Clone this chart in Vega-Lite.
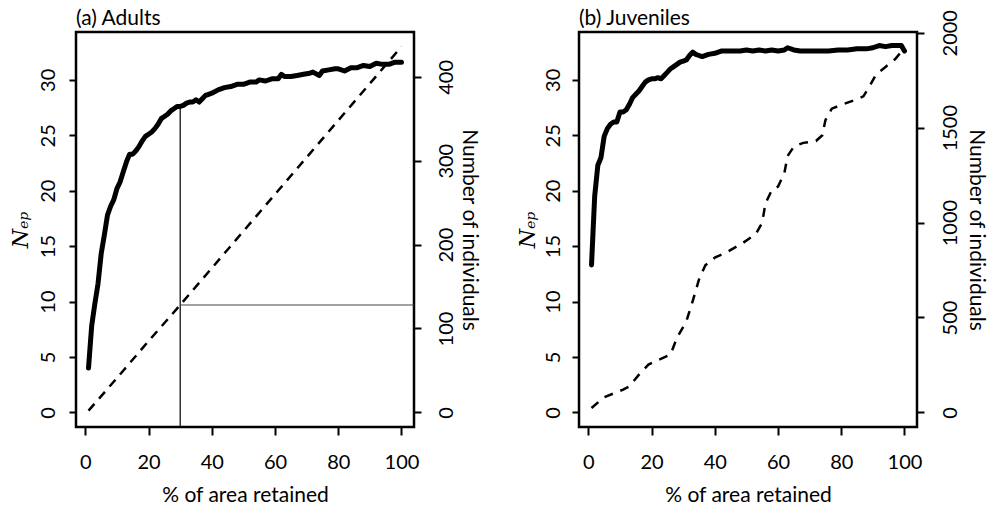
{
  "$schema": "https://vega.github.io/schema/vega-lite/v6.json",
  "background": "white",
  "padding": {"left": 7, "top": 6, "right": 2, "bottom": 0},
  "spacing": 33,
  "config": {
    "view": {"stroke": "black", "strokeWidth": 2.5},
    "axis": {
      "labelFont": "Lato", "labelFontSize": 20, "labelColor": "black",
      "titleFont": "Lato", "titleFontSize": 21, "titleColor": "black", "titleFontWeight": "normal",
      "tickColor": "black", "tickWidth": 2, "tickSize": 7, "domain": false, "grid": false
    },
    "title": {"font": "Lato", "fontSize": 21, "fontWeight": "normal", "color": "black", "anchor": "start", "frame": "group", "baseline": "alphabetic", "offset": 3}
  },
  "datasets": {
    "adultNep": [
      {"pct":1,"nep":4.0},{"pct":2,"nep":7.8},{"pct":3,"nep":9.8},{"pct":4,"nep":11.6},{"pct":5,"nep":14.3},
      {"pct":6,"nep":16.0},{"pct":7,"nep":17.8},{"pct":8,"nep":18.6},{"pct":9,"nep":19.2},{"pct":10,"nep":20.2},
      {"pct":11,"nep":20.8},{"pct":12,"nep":21.7},{"pct":13,"nep":22.6},{"pct":14,"nep":23.3},{"pct":15,"nep":23.3},
      {"pct":16,"nep":23.6},{"pct":17,"nep":24.0},{"pct":18,"nep":24.5},{"pct":19,"nep":24.9},{"pct":20,"nep":25.1},
      {"pct":21,"nep":25.3},{"pct":22,"nep":25.6},{"pct":23,"nep":26.0},{"pct":24,"nep":26.5},{"pct":25,"nep":26.7},
      {"pct":26,"nep":26.9},{"pct":27,"nep":27.2},{"pct":28,"nep":27.4},{"pct":29,"nep":27.6},{"pct":30,"nep":27.6},
      {"pct":31,"nep":27.7},{"pct":32,"nep":27.9},{"pct":33,"nep":28.0},{"pct":34,"nep":28.0},{"pct":35,"nep":28.2},
      {"pct":36,"nep":28.0},{"pct":37,"nep":28.3},{"pct":38,"nep":28.6},{"pct":39,"nep":28.7},{"pct":40,"nep":28.8},
      {"pct":42,"nep":29.1},{"pct":44,"nep":29.3},{"pct":46,"nep":29.4},{"pct":48,"nep":29.6},{"pct":50,"nep":29.6},
      {"pct":52,"nep":29.8},{"pct":54,"nep":29.8},{"pct":55,"nep":30.0},{"pct":57,"nep":29.9},{"pct":59,"nep":30.1},
      {"pct":61,"nep":30.1},{"pct":62,"nep":30.5},{"pct":63,"nep":30.3},{"pct":65,"nep":30.3},{"pct":67,"nep":30.4},
      {"pct":69,"nep":30.5},{"pct":71,"nep":30.6},{"pct":72,"nep":30.7},{"pct":74,"nep":30.4},{"pct":75,"nep":30.8},
      {"pct":77,"nep":30.9},{"pct":79,"nep":31.0},{"pct":80,"nep":31.0},{"pct":82,"nep":30.8},{"pct":84,"nep":31.1},
      {"pct":86,"nep":31.1},{"pct":88,"nep":31.3},{"pct":90,"nep":31.2},{"pct":92,"nep":31.5},{"pct":94,"nep":31.4},
      {"pct":96,"nep":31.4},{"pct":98,"nep":31.6},{"pct":100,"nep":31.6}
    ],
    "adultInd": [
      {"pct":1,"n":2},{"pct":10,"n":41},{"pct":20,"n":85},{"pct":30,"n":128},{"pct":40,"n":172},
      {"pct":50,"n":216},{"pct":60,"n":260},{"pct":70,"n":304},{"pct":80,"n":348},{"pct":90,"n":392},{"pct":100,"n":436}
    ],
    "adultVRule": [{"pct":30,"nep":27.6}],
    "adultHRule": [{"pct":30,"n":128}],
    "juvNep": [
      {"pct":1,"nep":13.3},{"pct":2,"nep":19.5},{"pct":3,"nep":22.3},{"pct":4,"nep":23.0},{"pct":5,"nep":24.9},
      {"pct":6,"nep":25.6},{"pct":7,"nep":26.0},{"pct":8,"nep":26.2},{"pct":9,"nep":26.2},{"pct":10,"nep":27.1},
      {"pct":11,"nep":27.1},{"pct":12,"nep":27.3},{"pct":13,"nep":27.8},{"pct":14,"nep":28.4},{"pct":15,"nep":28.7},
      {"pct":16,"nep":29.0},{"pct":17,"nep":29.4},{"pct":18,"nep":29.8},{"pct":19,"nep":30.0},{"pct":20,"nep":30.1},
      {"pct":21,"nep":30.1},{"pct":22,"nep":30.2},{"pct":23,"nep":30.1},{"pct":24,"nep":30.4},{"pct":25,"nep":30.7},
      {"pct":26,"nep":31.0},{"pct":27,"nep":31.2},{"pct":28,"nep":31.4},{"pct":29,"nep":31.6},{"pct":30,"nep":31.7},
      {"pct":31,"nep":31.8},{"pct":32,"nep":32.2},{"pct":33,"nep":32.5},{"pct":34,"nep":32.3},{"pct":35,"nep":32.2},
      {"pct":36,"nep":32.1},{"pct":38,"nep":32.3},{"pct":40,"nep":32.4},{"pct":42,"nep":32.6},{"pct":44,"nep":32.6},
      {"pct":46,"nep":32.6},{"pct":48,"nep":32.6},{"pct":50,"nep":32.7},{"pct":52,"nep":32.6},{"pct":54,"nep":32.7},
      {"pct":56,"nep":32.6},{"pct":58,"nep":32.7},{"pct":60,"nep":32.6},{"pct":62,"nep":32.7},{"pct":63,"nep":32.9},
      {"pct":65,"nep":32.7},{"pct":67,"nep":32.6},{"pct":70,"nep":32.6},{"pct":73,"nep":32.6},{"pct":76,"nep":32.6},
      {"pct":79,"nep":32.7},{"pct":82,"nep":32.7},{"pct":85,"nep":32.8},{"pct":88,"nep":32.8},{"pct":90,"nep":32.9},
      {"pct":92,"nep":33.1},{"pct":94,"nep":33.0},{"pct":96,"nep":33.1},{"pct":98,"nep":33.1},{"pct":99,"nep":33.1},
      {"pct":100,"nep":32.6}
    ],
    "juvInd": [
      {"pct":1,"n":23},{"pct":5,"n":80},{"pct":11,"n":120},{"pct":13,"n":137},{"pct":16,"n":199},
      {"pct":19,"n":252},{"pct":26,"n":305},{"pct":28,"n":392},{"pct":31,"n":480},{"pct":33,"n":586},
      {"pct":35,"n":700},{"pct":37,"n":775},{"pct":40,"n":815},{"pct":44,"n":846},{"pct":49,"n":894},
      {"pct":53,"n":940},{"pct":55,"n":1000},{"pct":56,"n":1100},{"pct":58,"n":1170},{"pct":60,"n":1190},
      {"pct":62,"n":1260},{"pct":63,"n":1350},{"pct":65,"n":1400},{"pct":68,"n":1420},{"pct":72,"n":1430},
      {"pct":74,"n":1460},{"pct":75,"n":1540},{"pct":77,"n":1600},{"pct":80,"n":1620},{"pct":85,"n":1650},
      {"pct":87,"n":1665},{"pct":89,"n":1720},{"pct":91,"n":1780},{"pct":94,"n":1820},{"pct":97,"n":1860},
      {"pct":100,"n":1920}
    ]
  },
  "hconcat": [
    {
      "title": {"text": "(a) Adults"},
      "width": 338,
      "height": 395,
      "layer": [
        {
          "layer": [
            {
              "data": {"name": "adultNep"},
              "mark": {"type": "line", "color": "black", "strokeWidth": 5, "strokeJoin": "round", "strokeCap": "round"},
              "encoding": {
                "x": {"field": "pct", "type": "quantitative", "scale": {"domain": [-2.96, 103.96], "nice": false, "zero": false},
                  "axis": {"title": "% of area retained", "values": [0,20,40,60,80,100], "tickSize": 8, "labelPadding": 17, "titlePadding": 12}},
                "y": {"field": "nep", "type": "quantitative", "scale": {"domain": [-1.32, 34.32], "nice": false, "zero": false},
                  "axis": {"title": "Nₑₚ", "titleFont": "DejaVu Serif", "titleFontStyle": "italic", "titleFontSize": 22,
                    "values": [0,5,10,15,20,25,30], "labelAngle": -90, "labelAlign": "center", "labelBaseline": "alphabetic",
                    "labelPadding": 15, "minExtent": 38, "maxExtent": 38, "titlePadding": 6}}
              }
            },
            {
              "data": {"name": "adultVRule"},
              "mark": {"type": "rule", "color": "black", "strokeWidth": 1.2},
              "encoding": {
                "x": {"field": "pct", "type": "quantitative"},
                "y": {"field": "nep", "type": "quantitative"},
                "y2": {"datum": -1.32}
              }
            }
          ]
        },
        {
          "layer": [
            {
              "data": {"name": "adultInd"},
              "mark": {"type": "line", "color": "black", "strokeWidth": 2.5, "strokeDash": [9, 7]},
              "encoding": {
                "x": {"field": "pct", "type": "quantitative"},
                "y": {"field": "n", "type": "quantitative", "scale": {"domain": [-17.44, 453.44], "nice": false, "zero": false},
                  "axis": {"orient": "right", "title": "Number of individuals", "values": [0,100,200,300,400], "format": "d",
                    "labelAngle": -90, "labelAlign": "center", "labelBaseline": "top", "labelPadding": 15,
                    "minExtent": 38, "maxExtent": 38, "titlePadding": 6}}
              }
            },
            {
              "data": {"name": "adultHRule"},
              "mark": {"type": "rule", "color": "#444444", "strokeWidth": 1.2},
              "encoding": {
                "x": {"field": "pct", "type": "quantitative"},
                "x2": {"datum": 103.96},
                "y": {"field": "n", "type": "quantitative"}
              }
            }
          ]
        }
      ],
      "resolve": {"scale": {"y": "independent"}}
    },
    {
      "title": {"text": "(b) Juveniles", "offset": -19},
      "width": 338,
      "height": 395,
      "layer": [
        {
          "data": {"name": "juvNep"},
          "mark": {"type": "line", "color": "black", "strokeWidth": 5, "strokeJoin": "round", "strokeCap": "round"},
          "encoding": {
            "x": {"field": "pct", "type": "quantitative", "scale": {"domain": [-2.96, 103.96], "nice": false, "zero": false},
              "axis": {"title": "% of area retained", "values": [0,20,40,60,80,100], "tickSize": 8, "labelPadding": 17, "titlePadding": 12}},
            "y": {"field": "nep", "type": "quantitative", "scale": {"domain": [-1.32, 34.32], "nice": false, "zero": false},
              "axis": {"title": "Nₑₚ", "titleFont": "DejaVu Serif", "titleFontStyle": "italic", "titleFontSize": 22,
                "values": [0,5,10,15,20,25,30], "labelAngle": -90, "labelAlign": "center", "labelBaseline": "alphabetic",
                "labelPadding": 13, "minExtent": 36, "maxExtent": 36, "titlePadding": 4}}
          }
        },
        {
          "data": {"name": "juvInd"},
          "mark": {"type": "line", "color": "black", "strokeWidth": 2.5, "strokeDash": [9, 8]},
          "encoding": {
            "x": {"field": "pct", "type": "quantitative"},
            "y": {"field": "n", "type": "quantitative", "scale": {"domain": [-77, 2004], "nice": false, "zero": false},
              "axis": {"orient": "right", "title": "Number of individuals", "values": [0,500,1000,1500,2000], "format": "d",
                "labelAngle": -90, "labelAlign": "center", "labelBaseline": "top", "labelPadding": 16,
                "minExtent": 42, "maxExtent": 42, "titlePadding": 6}}
          }
        }
      ],
      "resolve": {"scale": {"y": "independent"}}
    }
  ]
}
